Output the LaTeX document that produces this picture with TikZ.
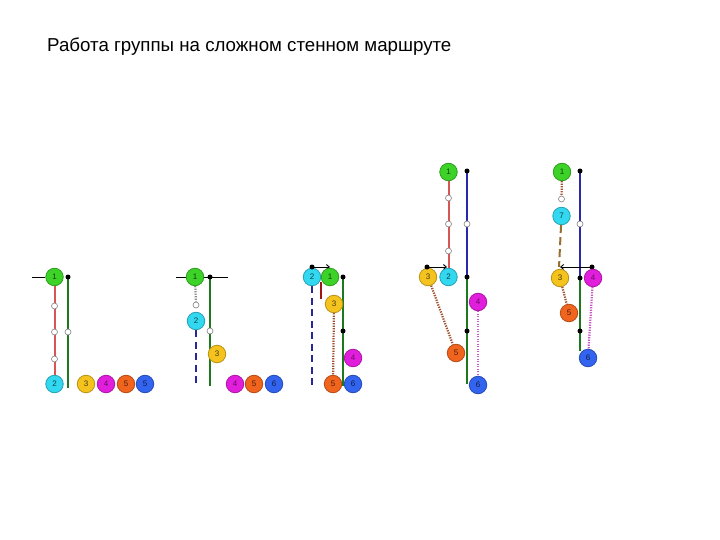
\documentclass[tikz,border=0pt]{standalone}
\usepackage{fontspec}
\setmainfont{Liberation Sans}
\usetikzlibrary{arrows.meta,backgrounds}
\definecolor{cG}{RGB}{60,210,40}
\definecolor{cC}{RGB}{50,215,240}
\definecolor{cY}{RGB}{245,195,30}
\definecolor{cM}{RGB}{225,30,220}
\definecolor{cO}{RGB}{240,100,30}
\definecolor{cB}{RGB}{50,100,240}
\definecolor{lRed}{RGB}{215,85,85}
\definecolor{lDRed}{RGB}{160,20,20}
\definecolor{lGreen}{RGB}{30,120,30}
\definecolor{lNavy}{RGB}{40,40,175}
\definecolor{lDash}{RGB}{40,40,150}
\definecolor{lGray}{RGB}{140,140,140}
\definecolor{lBrown}{RGB}{160,80,45}
\definecolor{lKhaki}{RGB}{150,110,50}
\definecolor{lPink}{RGB}{200,90,200}
\tikzset{
  ball/.style={circle,minimum size=17.5pt,inner sep=0pt,line width=0.8pt,font=\fontsize{8}{8}\selectfont},
  nG/.style={ball,fill=cG,draw=cG!75!black,text=cG!30!black},
  nC/.style={ball,fill=cC,draw=cC!75!black,text=cC!30!black},
  nY/.style={ball,fill=cY,draw=cY!75!black,text=cY!30!black},
  nM/.style={ball,fill=cM,draw=cM!75!black,text=cM!45!black},
  nO/.style={ball,fill=cO,draw=cO!75!black,text=cO!30!black},
  nB/.style={ball,fill=cB,draw=cB!75!black,text=cB!30!black},
  wc/.style={circle,minimum size=6pt,inner sep=0pt,fill=white,draw=gray,line width=0.6pt},
  bd/.style={circle,minimum size=5pt,inner sep=0pt,fill=black},
  redline/.style={lRed,line width=2pt},
  dredline/.style={lDRed,line width=2pt},
  greenline/.style={lGreen,line width=1.4pt},
  navyline/.style={lNavy,line width=1.6pt},
  bluedash/.style={lDash,line width=2pt,dash pattern=on 7pt off 4.5pt},
  graydot/.style={lGray,line width=2.2pt,dash pattern=on 1.3pt off 1.2pt},
  browndot/.style={lBrown,line width=2.2pt,dash pattern=on 1.3pt off 1.2pt},
  pinkdot/.style={lPink,line width=2.2pt,dash pattern=on 1.3pt off 1.2pt},
  khakidash/.style={lKhaki,line width=2pt,dash pattern=on 8pt off 4pt},
  blackline/.style={black,line width=0.9pt},
  arrline/.style={black,line width=0.9pt,-{Straight Barb[length=3pt,width=5pt]}},
}
\begin{document}
\begin{tikzpicture}[x=1pt,y=-1pt]
\useasboundingbox (0,0) rectangle (720,540);
\node[anchor=west,inner sep=0pt,font=\fontsize{18.7}{18.7}\selectfont] (title) at (47,47) {Работа группы на сложном стенном маршруте};

% ---------- panel 1 ----------
\node[nG] (a1) at (54.5,277) {1};
\node[nC] (a2) at (54.5,384) {2};
\node[nY] (a3) at (86,384) {3};
\node[nM] (a4) at (106,384) {4};
\node[nO] (a5) at (126,384) {5};
\node[nB] (a6) at (145,384) {5};
\node[bd] (ad) at (68,277) {};
\coordinate (a0) at (32,277);
\coordinate (ae) at (68,388);
\node[wc] (aw1) at (54.5,306) {};
\node[wc] (aw2) at (54.5,332) {};
\node[wc] (aw3) at (54.5,359) {};
\node[wc] (aw4) at (68,332) {};

% ---------- panel 2 ----------
\node[nG] (b1) at (195,277) {1};
\node[wc] (bw1) at (196,305) {};
\node[nC] (b2) at (196,321) {2};
\node[bd] (bd) at (210,277) {};
\node[wc] (bw2) at (210,331) {};
\node[nY] (b3) at (217,354) {3};
\node[nM] (b4) at (235,384) {4};
\node[nO] (b5) at (254,384) {5};
\node[nB] (b6) at (274,384) {6};
\coordinate (bl) at (176,277);
\coordinate (br) at (228,277);
\coordinate (be) at (196,386);
\coordinate (bge) at (210,386);

% ---------- panel 3 ----------
\node[nC] (c2) at (312,277) {2};
\node[nG] (c1) at (330,277) {1};
\node[bd] (ca) at (312,267) {};
\coordinate (cb) at (330,267);
\coordinate (cr1) at (321,282);
\coordinate (cr2) at (321,299);
\node[bd] (cd) at (343,277) {};
\node[bd] (cd2) at (343,331) {};
\coordinate (cge) at (343,386);
\coordinate (cbe) at (312,386);
\node[nY] (c3) at (334,304) {3};
\node[nM] (c4) at (353,358) {4};
\node[nO] (c5) at (333,384) {5};
\node[nB] (c6) at (353,384) {6};

% ---------- panel 4 ----------
\node[nG] (d1) at (448.5,172) {1};
\node[bd] (dd1) at (467,171) {};
\node[wc] (dw1) at (448.5,198) {};
\node[wc] (dw2) at (448.5,224) {};
\node[wc] (dw3) at (448.5,251) {};
\node[wc] (dw4) at (467,224) {};
\node[nC] (d2) at (448.5,277) {2};
\node[nY] (d3) at (428,277) {3};
\node[bd] (da) at (427,267) {};
\coordinate (db) at (447,267);
\node[bd] (dd2) at (467,277) {};
\node[bd] (dd3) at (467,331) {};
\coordinate (dge) at (467,384);
\node[nM] (d4) at (478,302) {4};
\node[nO] (d5) at (456,353) {5};
\node[nB] (d6) at (478,385) {6};

% ---------- panel 5 ----------
\node[nG] (e1) at (562,172) {1};
\node[bd] (ed1) at (580,171) {};
\node[wc] (ew1) at (561.5,199) {};
\node[nC] (e7) at (561.5,216) {7};
\coordinate (ek) at (559,267);
\node[wc] (ew2) at (580,224) {};
\node[bd] (ed2) at (580,278) {};
\node[bd] (ed3) at (580,331) {};
\coordinate (ege) at (580,351);
\node[bd] (ea) at (592,267) {};
\coordinate (eb) at (560,267);
\node[nY] (e3) at (560,278) {3};
\node[nM] (e4) at (593,278) {4};
\node[nO] (e5) at (569,313) {5};
\node[nB] (e6) at (588,358) {6};

\begin{pgfonlayer}{background}
  % panel 1
  \draw[blackline] (a0) -- (a1);
  \draw[redline] (a1) -- (a2);
  \draw[greenline] (ad.center) -- (ae);
  % panel 2
  \draw[blackline] (bl) -- (br);
  \draw[graydot] (b1) -- (bw1);
  \draw[bluedash] (b2) -- (be);
  \draw[greenline] (bd.center) -- (bge);
  % panel 3
  \draw[arrline] (ca.center) -- (cb);
  \draw[dredline] (cr1) -- (cr2);
  \draw[greenline] (cd.center) -- (cge);
  \draw[bluedash] (c2) -- (cbe);
  \draw[browndot] (c3) -- (c5);
  % panel 4
  \draw[redline] (d1) -- (d2);
  \draw[navyline] (dd1.center) -- (dd2.center);
  \draw[arrline] (da.center) -- (db);
  \draw[greenline] (dd2.center) -- (dge);
  \draw[browndot] (d3) -- (d5);
  \draw[pinkdot] (d4) -- (d6);
  % panel 5
  \draw[browndot] (e1) -- (ew1);
  \draw[khakidash] (e7) -- (ek);
  \draw[navyline] (ed1.center) -- (ed2.center);
  \draw[arrline] (ea.center) -- (eb);
  \draw[greenline] (ed2.center) -- (ege);
  \draw[browndot] (e3) -- (e5);
  \draw[pinkdot] (e4) -- (e6);
\end{pgfonlayer}
\end{tikzpicture}
\end{document}
